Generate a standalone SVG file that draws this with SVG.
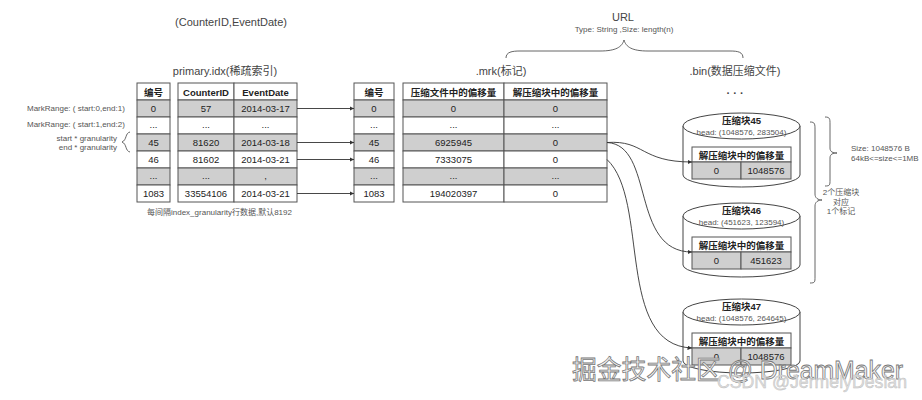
<svg xmlns="http://www.w3.org/2000/svg" width="922" height="400" viewBox="0 0 922 400">
<style>
text{font-family:"Liberation Sans","Noto Sans CJK SC",sans-serif;fill:#333}
.lbl{font-size:11px;text-anchor:middle;fill:#444}
.sm{font-size:8px;fill:#555}
.c{font-size:9.5px;text-anchor:middle;fill:#222}
.h{font-size:9.5px;font-weight:bold;text-anchor:middle;fill:#222}
.cell{stroke:#555;stroke-width:1}
.g{fill:#cfcfcf}
.w{fill:#fff}
.ln{fill:none;stroke:#333;stroke-width:0.9}
.br{fill:none;stroke:#555;stroke-width:0.9}
.cyl{fill:#fff;stroke:#444;stroke-width:1}
</style>
<defs>
<marker id="ah" viewBox="0 0 6 6" refX="6" refY="3" markerWidth="5" markerHeight="5" orient="auto">
<path d="M0,0 L6,3 L0,6 z" fill="#333"/>
</marker>
</defs>
<rect width="922" height="400" fill="#fff"/>

<g id="labels">
<text class="lbl" x="231" y="26">(CounterID,EventDate)</text>
<text class="lbl" x="225" y="75">primary.idx(稀疏索引)</text>
<text class="lbl" x="623" y="21">URL</text>
<text class="sm" x="624" y="32" text-anchor="middle">Type: String ,Size: length(n)</text>
<text class="lbl" x="501" y="75">.mrk(标记)</text>
<text class="lbl" x="735" y="75">.bin(数据压缩文件)</text>
<text class="lbl" x="735" y="97" font-weight="bold">· · ·</text>
<path class="br" d="M506,58 C506,52 512,51 520,51 L600,51 C616,51 622,47 624,40 C626,47 632,51 648,51 L730,51 C738,51 743,52 743,58"/>
</g>

<g id="markrange">
<text class="sm" x="27" y="111">MarkRange: ( start:0,end:1)</text>
<text class="sm" x="27" y="127">MarkRange: ( start:1,end:2)</text>
<text class="sm" x="117" y="141" text-anchor="end">start * granularity</text>
<text class="sm" x="117" y="150" text-anchor="end">end  * granularity</text>
<path class="br" d="M130,132 C125,133 127,140 122,142 C127,144 125,151 130,152"/>
</g>

<g id="primary-idx">
<rect class="cell w" x="137" y="83" width="33" height="17"/>
<text class="h" x="153.5" y="96" font-size="10">编号</text>
<rect class="cell g" x="137" y="100" width="33" height="17"/>
<rect class="cell w" x="137" y="117" width="33" height="17"/>
<rect class="cell g" x="137" y="134" width="33" height="17"/>
<rect class="cell w" x="137" y="151" width="33" height="17"/>
<rect class="cell g" x="137" y="168" width="33" height="17"/>
<rect class="cell w" x="137" y="185" width="33" height="17"/>
<text class="c" x="153.5" y="112">0</text>
<text class="c" x="153.5" y="128">...</text>
<text class="c" x="153.5" y="146">45</text>
<text class="c" x="153.5" y="163">46</text>
<text class="c" x="153.5" y="179">...</text>
<text class="c" x="153.5" y="197">1083</text>

<rect class="cell w" x="178" y="83" width="56" height="17"/>
<rect class="cell w" x="234" y="83" width="63" height="17"/>
<text class="h" x="206" y="95.5">CounterID</text>
<text class="h" x="265.5" y="95.5">EventDate</text>
<rect class="cell g" x="178" y="100" width="56" height="17"/><rect class="cell g" x="234" y="100" width="63" height="17"/>
<rect class="cell w" x="178" y="117" width="56" height="17"/><rect class="cell w" x="234" y="117" width="63" height="17"/>
<rect class="cell g" x="178" y="134" width="56" height="17"/><rect class="cell g" x="234" y="134" width="63" height="17"/>
<rect class="cell w" x="178" y="151" width="56" height="17"/><rect class="cell w" x="234" y="151" width="63" height="17"/>
<rect class="cell g" x="178" y="168" width="56" height="17"/><rect class="cell g" x="234" y="168" width="63" height="17"/>
<rect class="cell w" x="178" y="185" width="56" height="17"/><rect class="cell w" x="234" y="185" width="63" height="17"/>
<text class="c" x="206" y="112">57</text><text class="c" x="265.5" y="112">2014-03-17</text>
<text class="c" x="206" y="128">...</text><text class="c" x="265.5" y="128">...</text>
<text class="c" x="206" y="146">81620</text><text class="c" x="265.5" y="146">2014-03-18</text>
<text class="c" x="206" y="163">81602</text><text class="c" x="265.5" y="163">2014-03-21</text>
<text class="c" x="206" y="179">...</text><text class="c" x="265.5" y="179">,</text>
<text class="c" x="206" y="197">33554106</text><text class="c" x="265.5" y="197">2014-03-21</text>
<text class="sm" x="147" y="215" font-size="8.5">每间隔index_granularity行数据,默认8192</text>
</g>

<g id="mrk">
<rect class="cell w" x="354" y="83" width="40" height="17"/>
<text class="h" x="374" y="96" font-size="10">编号</text>
<rect class="cell g" x="354" y="100" width="40" height="17"/>
<rect class="cell w" x="354" y="117" width="40" height="17"/>
<rect class="cell g" x="354" y="134" width="40" height="17"/>
<rect class="cell w" x="354" y="151" width="40" height="17"/>
<rect class="cell g" x="354" y="168" width="40" height="17"/>
<rect class="cell w" x="354" y="185" width="40" height="17"/>
<text class="c" x="374" y="112">0</text>
<text class="c" x="374" y="128">...</text>
<text class="c" x="374" y="146">45</text>
<text class="c" x="374" y="163">46</text>
<text class="c" x="374" y="179">...</text>
<text class="c" x="374" y="197">1083</text>

<rect class="cell w" x="403" y="83" width="101" height="17"/>
<rect class="cell w" x="504" y="83" width="103" height="17"/>
<text class="h" x="453.5" y="96">压缩文件中的偏移量</text>
<text class="h" x="555.5" y="96">解压缩块中的偏移量</text>
<rect class="cell g" x="403" y="100" width="101" height="17"/><rect class="cell g" x="504" y="100" width="103" height="17"/>
<rect class="cell w" x="403" y="117" width="101" height="17"/><rect class="cell w" x="504" y="117" width="103" height="17"/>
<rect class="cell g" x="403" y="134" width="101" height="17"/><rect class="cell g" x="504" y="134" width="103" height="17"/>
<rect class="cell w" x="403" y="151" width="101" height="17"/><rect class="cell w" x="504" y="151" width="103" height="17"/>
<rect class="cell g" x="403" y="168" width="101" height="17"/><rect class="cell g" x="504" y="168" width="103" height="17"/>
<rect class="cell w" x="403" y="185" width="101" height="17"/><rect class="cell w" x="504" y="185" width="103" height="17"/>
<text class="c" x="453.5" y="112">0</text><text class="c" x="555.5" y="112">0</text>
<text class="c" x="453.5" y="128">...</text><text class="c" x="555.5" y="128">...</text>
<text class="c" x="453.5" y="146">6925945</text><text class="c" x="555.5" y="146">0</text>
<text class="c" x="453.5" y="163">7333075</text><text class="c" x="555.5" y="163">0</text>
<text class="c" x="453.5" y="179">...</text><text class="c" x="555.5" y="179">...</text>
<text class="c" x="453.5" y="197">194020397</text><text class="c" x="555.5" y="197">0</text>
</g>

<g id="block45">
<path class="cyl" d="M683,126 V175 A58.5,12 0 0 0 800,175 V126"/>
<ellipse class="cyl" cx="741.5" cy="126" rx="58.5" ry="13"/>
<text class="h" x="741.5" y="124" font-size="10">压缩块45</text>
<text class="sm" x="741.5" y="134.5" text-anchor="middle" font-size="7.5">head: (1048576, 283504)</text>
<rect class="cell w" x="692" y="147" width="99" height="15"/>
<text class="h" x="741.5" y="158.5">解压缩块中的偏移量</text>
<rect class="cell g" x="692" y="162" width="49" height="17"/>
<rect class="cell g" x="741" y="162" width="50" height="17"/>
<text class="c" x="716.5" y="174">0</text>
<text class="c" x="766" y="174">1048576</text>
</g>

<g id="block46">
<path class="cyl" d="M683,216 V265 A58.5,12 0 0 0 800,265 V216"/>
<ellipse class="cyl" cx="741.5" cy="216" rx="58.5" ry="13"/>
<text class="h" x="741.5" y="214" font-size="10">压缩块46</text>
<text class="sm" x="741.5" y="224.5" text-anchor="middle" font-size="7.5">head: (451623, 123594)</text>
<rect class="cell w" x="692" y="237" width="99" height="15"/>
<text class="h" x="741.5" y="248.5">解压缩块中的偏移量</text>
<rect class="cell g" x="692" y="252" width="49" height="17"/>
<rect class="cell g" x="741" y="252" width="50" height="17"/>
<text class="c" x="716.5" y="264">0</text>
<text class="c" x="766" y="264">451623</text>
</g>

<g id="block47">
<path class="cyl" d="M683,312 V361 A58.5,12 0 0 0 800,361 V312"/>
<ellipse class="cyl" cx="741.5" cy="312" rx="58.5" ry="13"/>
<text class="h" x="741.5" y="310" font-size="10">压缩块47</text>
<text class="sm" x="741.5" y="320.5" text-anchor="middle" font-size="7.5">head: (1048576, 264645)</text>
<rect class="cell w" x="692" y="333" width="99" height="15"/>
<text class="h" x="741.5" y="344.5">解压缩块中的偏移量</text>
<rect class="cell g" x="692" y="348" width="49" height="17"/>
<rect class="cell g" x="741" y="348" width="50" height="17"/>
<text class="c" x="716.5" y="360">0</text>
<text class="c" x="766" y="360">1048576</text>
</g>

<g id="connectors">
<line class="ln" x1="297" y1="108.5" x2="354" y2="108.5" marker-end="url(#ah)"/>
<line class="ln" x1="297" y1="142.5" x2="354" y2="142.5" marker-end="url(#ah)"/>
<line class="ln" x1="297" y1="159.5" x2="354" y2="159.5" marker-end="url(#ah)"/>
<line class="ln" x1="297" y1="193.5" x2="354" y2="193.5" marker-end="url(#ah)"/>
<path class="ln" d="M607,142.5 C645,140 640,162 692,162" marker-end="url(#ah)"/>
<path class="ln" d="M607,142.5 C655,145 630,252 692,252" marker-end="url(#ah)"/>
<path class="ln" d="M607,159.5 C650,200 615,345 692,348" marker-end="url(#ah)"/>
</g>

<g id="annotations">
<path class="br" d="M825,117 C830,117 830,119 830,124 L830,148 C830,152 833,153 837,153 C833,153 830,154 830,158 L830,180 C830,185 830,186 825,186"/>
<text class="sm" x="851" y="151">Size: 1048576 B</text>
<text class="sm" x="851" y="161">64kB&lt;=size&lt;=1MB</text>
<path class="br" d="M810,122 C815,122 815,124 815,130 L815,194 C815,198 818,200 822,200 C818,200 815,202 815,206 L815,277 C815,282 815,283 810,283"/>
<text class="sm" x="841" y="195" text-anchor="middle" font-size="6.5">2个压缩块</text>
<text class="sm" x="841" y="205" text-anchor="middle" font-size="6.5">对应</text>
<text class="sm" x="841" y="214" text-anchor="middle" font-size="6.5">1个标记</text>
</g>

<g id="watermark">
<text x="572" y="379" font-size="26" textLength="331" lengthAdjust="spacingAndGlyphs" style="fill:#f4f4f4;stroke:#777;stroke-width:0.8">掘金技术社区 @ DreamMaker</text>
<text x="717" y="388" font-size="18" textLength="190" lengthAdjust="spacingAndGlyphs" style="fill:#ddd;stroke:#bbb;stroke-width:0.4">CSDN @JermelyDesian</text>
</g>
</svg>
